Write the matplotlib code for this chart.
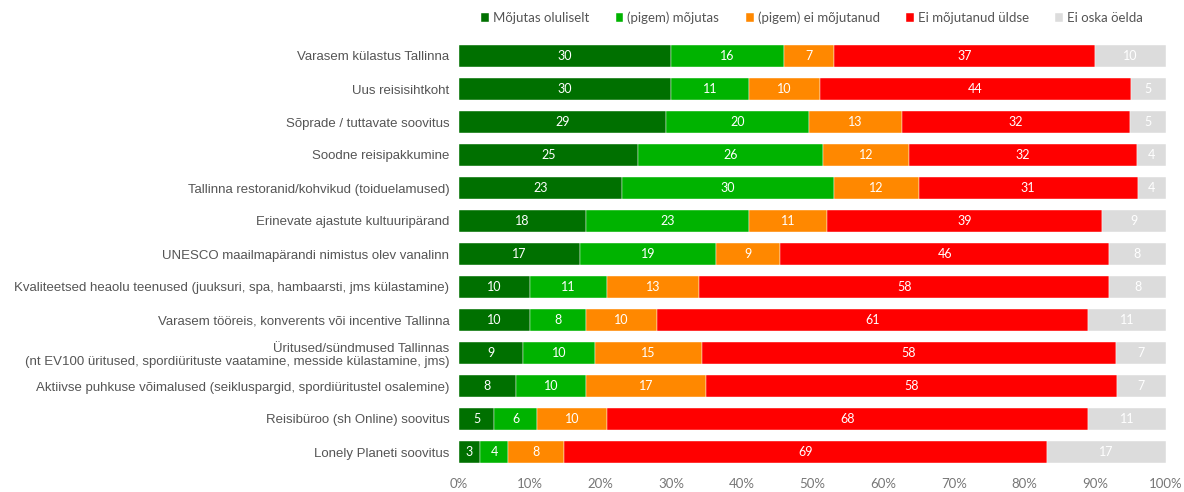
import matplotlib
matplotlib.use("Agg")
import matplotlib.pyplot as plt
import numpy as np

categories = [
    "Varasem külastus Tallinna",
    "Uus reisisihtkoht",
    "Sõprade / tuttavate soovitus",
    "Soodne reisipakkumine",
    "Tallinna restoranid/kohvikud (toiduelamused)",
    "Erinevate ajastute kultuuripärand",
    "UNESCO maailmapärandi nimistus olev vanalinn",
    "Kvaliteetsed heaolu teenused (juuksuri, spa, hambaarsti, jms külastamine)",
    "Varasem tööreis, konverents või incentive Tallinna",
    "Üritused/sündmused Tallinnas\n(nt EV100 üritused, spordiürituste vaatamine, messide külastamine, jms)",
    "Aktiivse puhkuse võimalused (seikluspargid, spordiüritustel osalemine)",
    "Reisibüroo (sh Online) soovitus",
    "Lonely Planeti soovitus",
]
series_names = ["Mõjutas oluliselt", "(pigem) mõjutas", "(pigem) ei mõjutanud",
                "Ei mõjutanud üldse", "Ei oska öelda"]
mojutas_oluliselt = [30, 30, 29, 25, 23, 18, 17, 10, 10, 9, 8, 5, 3]
pigem_mojutas = [16, 11, 20, 26, 30, 23, 19, 11, 8, 10, 10, 6, 4]
pigem_ei_mojutanud = [7, 10, 13, 12, 12, 11, 9, 13, 10, 15, 17, 10, 8]
ei_mojutanud_uldse = [37, 44, 32, 32, 31, 39, 46, 58, 61, 58, 58, 68, 69]
ei_oska_oelda = [10, 5, 5, 4, 4, 9, 8, 8, 11, 7, 7, 11, 17]
colors = ["#007000", "#00b300", "#ff8800", "#ff0000", "#dcdcdc"]

data = np.array([mojutas_oluliselt, pigem_mojutas, pigem_ei_mojutanud,
                 ei_mojutanud_uldse, ei_oska_oelda], dtype=float)
# bars are shown as shares of 100% (rounded labels)
shares = data / data.sum(axis=0) * 100

fig = plt.figure(figsize=(11.84, 4.92), dpi=100)
ax = fig.add_axes([459 / 1184, 1 - 468.5 / 492, (1166 - 459) / 1184, 429 / 492])

y = np.arange(len(categories))
left = np.zeros(len(categories))
for name, vals, widths, col in zip(series_names, data, shares, colors):
    ax.barh(y, widths, left=left, height=0.67, color=col, label=name,
            edgecolor="white", linewidth=0.3)
    for yi, l, w, v in zip(y, left, widths, vals):
        ax.text(l + w / 2, yi, f"{int(v)}", ha="center", va="center",
                color="white", fontsize=9, family="Lato")
    left += widths

ax.set_xlim(0, 100)
ax.set_ylim(len(categories) - 0.5, -0.5)
ax.set_yticks(y)
ax.set_yticklabels(categories, fontsize=9.5, color="#555555", family="Liberation Sans")
ax.set_xticks(np.arange(0, 101, 10))
ax.set_xticklabels([f"{t}%" for t in range(0, 101, 10)], fontsize=9.5,
                   color="#777777", family="Lato")
ax.tick_params(length=0, axis="both")
ax.tick_params(axis="y", pad=7)
ax.tick_params(axis="x", pad=7)
for s in ax.spines.values():
    s.set_visible(False)

handles, labels = ax.get_legend_handles_labels()
fig.legend(handles, labels, loc="center", bbox_to_anchor=(812 / 1184, 1 - 18 / 492),
           ncol=5, frameon=False, handlelength=0.6, handleheight=0.6,
           handletextpad=0.3, columnspacing=2.0,
           prop={"family": "Lato", "size": 9.5}, labelcolor="#555555")

fig.savefig("out.png", dpi=100)
